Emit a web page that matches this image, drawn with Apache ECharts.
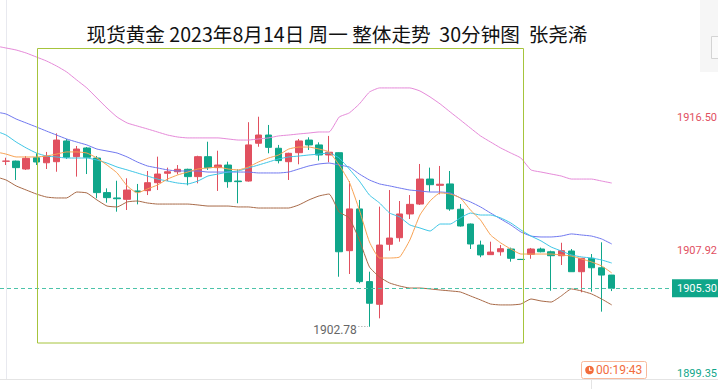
<!DOCTYPE html>
<html>
<head>
<meta charset="utf-8">
<script src="https://cdn.jsdelivr.net/npm/echarts@6/dist/echarts.min.js"></script>
<style>html,body{margin:0;padding:0;background:#fff;}#c{width:718px;height:389px;}</style>
</head>
<body>
<div id="c"></div>
<script>
const titleText = '现货黄金 2023年8月14日 周一 整体走势  30分钟图  张尧浠';

// 30-minute candles (index 0..60)
const opens  = [1913.64,1913.65,1913.13,1913.87,1913.54,1913.61,1914.97,1913.94,1914.51,1913.85,1911.58,1911.23,1911.14,1911.69,1911.71,1912.23,1912.85,1912.95,1913.11,1912.63,1913.94,1913.22,1913.39,1912.34,1912.34,1914.82,1915.36,1914.49,1913.61,1914.20,1915.03,1914.71,1914.05,1914.20,1907.77,1910.51,1905.74,1904.25,1908.19,1908.62,1910.18,1910.83,1912.47,1912.06,1912.15,1910.49,1909.52,1908.14,1907.51,1907.70,1907.88,1907.20,1907.53,1907.88,1907.70,1907.44,1907.75,1906.39,1907.27,1906.65,1906.17];
const closes = [1913.65,1913.22,1913.83,1913.59,1913.98,1915.03,1913.90,1914.44,1913.90,1911.58,1911.25,1911.18,1911.75,1911.64,1912.23,1912.80,1912.95,1913.11,1912.63,1913.94,1913.22,1913.39,1912.30,1912.30,1914.71,1915.36,1914.55,1913.68,1914.16,1914.97,1914.71,1914.05,1914.23,1907.70,1910.51,1905.74,1904.32,1908.14,1908.60,1910.18,1910.81,1912.47,1912.10,1912.13,1910.51,1909.39,1908.21,1907.49,1907.68,1907.90,1907.27,1907.19,1907.88,1907.70,1907.44,1907.77,1906.39,1907.27,1906.65,1906.17,1905.30];
const lows   = [1913.39,1912.41,1913.07,1913.39,1913.13,1912.95,1913.79,1912.63,1912.80,1911.21,1910.92,1910.33,1910.44,1910.81,1911.42,1911.75,1912.34,1912.78,1912.06,1912.19,1913.07,1911.69,1911.90,1910.88,1912.30,1914.59,1914.16,1913.50,1912.41,1913.44,1914.38,1913.68,1913.57,1906.06,1906.24,1905.63,1902.78,1903.33,1907.77,1908.36,1909.85,1910.77,1911.64,1911.47,1910.39,1909.35,1907.88,1907.34,1907.50,1907.44,1907.05,1907.16,1907.24,1907.66,1905.14,1906.83,1906.38,1905.04,1905.08,1903.77,1905.12];
const highs  = [1913.87,1913.68,1913.98,1914.16,1914.25,1915.47,1915.10,1914.64,1914.57,1913.98,1911.86,1912.36,1912.52,1912.15,1913.00,1913.94,1913.22,1913.39,1913.15,1914.00,1914.92,1914.33,1913.61,1913.11,1916.20,1916.56,1916.02,1914.71,1914.20,1915.10,1915.21,1914.88,1915.30,1914.22,1912.34,1911.10,1906.39,1910.66,1911.75,1911.03,1911.42,1913.46,1913.22,1913.33,1913.00,1910.83,1909.55,1908.43,1908.36,1908.14,1907.97,1907.23,1907.95,1907.97,1907.77,1908.29,1907.88,1907.28,1907.55,1908.32,1906.18];

// indicator lines (index -1..60)
const upperBand = [1921.20,1921.07,1920.94,1920.74,1920.48,1920.22,1919.89,1919.50,1918.97,1918.45,1917.79,1917.13,1916.54,1916.15,1915.95,1915.76,1915.56,1915.36,1915.23,1915.17,1915.17,1915.17,1915.17,1915.10,1915.03,1915.03,1915.10,1915.17,1915.30,1915.36,1915.43,1915.49,1915.56,1915.56,1916.54,1916.81,1917.40,1918.18,1918.45,1918.45,1918.45,1918.45,1918.25,1917.86,1917.40,1916.87,1916.35,1915.82,1915.30,1914.90,1914.51,1914.18,1913.85,1913.07,1912.93,1912.80,1912.67,1912.47,1912.47,1912.47,1912.34,1912.21];
const midBand   = [1916.87,1916.74,1916.41,1916.15,1915.89,1915.62,1915.36,1915.10,1914.90,1914.71,1914.44,1914.31,1914.18,1913.92,1913.59,1913.33,1913.20,1913.07,1913.00,1913.00,1913.00,1912.93,1912.93,1912.93,1912.93,1912.93,1912.87,1912.87,1912.87,1912.93,1913.13,1913.33,1913.46,1913.52,1913.39,1913.26,1912.80,1912.41,1912.15,1912.02,1911.88,1911.75,1911.69,1911.62,1911.62,1911.56,1911.23,1910.97,1910.64,1910.24,1909.85,1909.46,1909.00,1908.73,1908.67,1908.67,1908.73,1908.87,1908.80,1908.73,1908.54,1908.21];
const maSlow    = [1915.62,1915.36,1914.90,1914.51,1914.18,1913.98,1913.92,1913.85,1913.85,1913.85,1913.72,1913.52,1913.26,1913.07,1912.87,1912.67,1912.47,1912.34,1912.21,1912.15,1912.34,1912.67,1912.80,1912.93,1913.00,1913.20,1913.39,1913.59,1913.79,1913.92,1913.98,1914.05,1914.11,1914.18,1913.85,1913.13,1912.34,1911.42,1910.90,1910.24,1909.98,1909.46,1909.26,1909.06,1909.52,1909.52,1909.92,1910.24,1910.11,1910.11,1909.92,1909.59,1909.13,1908.73,1908.41,1908.01,1907.75,1907.49,1907.36,1907.29,1907.16,1906.96];
const maFast    = [1914.25,1914.11,1913.92,1913.92,1913.92,1913.98,1914.11,1914.25,1914.25,1914.18,1913.85,1913.39,1912.87,1912.02,1911.56,1911.82,1912.08,1912.47,1912.74,1912.93,1913.13,1913.20,1913.26,1913.13,1913.07,1913.26,1913.59,1913.85,1914.05,1914.44,1914.57,1914.57,1914.44,1914.25,1913.39,1912.28,1910.44,1908.34,1907.29,1907.29,1907.36,1908.47,1910.11,1911.03,1911.56,1911.49,1911.23,1910.44,1909.78,1908.80,1908.28,1907.88,1907.55,1907.55,1907.55,1907.55,1907.49,1907.42,1907.23,1907.03,1906.77,1906.31];
const lowerBand = [1912.61,1912.41,1912.02,1911.75,1911.49,1911.29,1911.23,1911.23,1911.62,1911.56,1911.10,1910.70,1910.64,1910.97,1911.03,1910.90,1910.83,1910.83,1910.83,1910.83,1910.77,1910.70,1910.70,1910.70,1910.64,1910.64,1910.57,1910.57,1910.57,1910.57,1910.77,1911.10,1911.36,1911.49,1910.31,1909.92,1908.47,1906.70,1906.04,1905.65,1905.45,1905.32,1905.32,1905.26,1905.19,1905.13,1905.06,1904.80,1904.54,1904.27,1904.21,1904.21,1904.27,1904.60,1904.47,1904.40,1904.80,1905.26,1905.13,1904.93,1904.60,1904.21];

const lastPrice = 1905.30;
const lowMark = 1902.78;
const axisLabelValues = [1916.50, 1907.92, 1899.35];
const timeTicks = [58];
const countdown = '00:19:43';

const RED = '#e1505f', GREEN = '#0fa68a';

const candleData = opens.map((o, i) => [i, o, closes[i], lows[i], highs[i]]);
const toLine = arr => arr.map((v, k) => [k - 1, v]);

const chart = echarts.init(document.getElementById('c'), null, {renderer: 'svg'});

function lineSeries(name, arr, color) {
  return {
    name, type: 'line', data: toLine(arr), showSymbol: false, symbol: 'none',
    smooth: 0.15, z: 4, silent: true,
    lineStyle: {color, width: 1}
  };
}

const labelStyleKey = v => v === axisLabelValues[2] ? 'lo' : (v === axisLabelValues[1] ? 'mid' : 'hi');

chart.setOption({
  animation: false,
  backgroundColor: '#fff',
  grid: {left: 0, right: 46, top: 0, bottom: 10, containLabel: false, outerBoundsMode: 'none'},
  xAxis: {
    type: 'value', min: -0.6, max: 65.97,
    axisLine: {show: true, lineStyle: {color: '#e4e4e4'}},
    axisTick: {show: true, customValues: timeTicks, length: 10, lineStyle: {color: '#e4e4e4'}},
    axisLabel: {show: false},
    splitLine: {show: false}
  },
  yAxis: {
    type: 'value', position: 'right', min: 1899.35, max: 1924.22, scale: true,
    axisLine: {show: true, lineStyle: {color: '#e8e9ef'}},
    axisTick: {show: false},
    splitLine: {show: false},
    axisLabel: {
      customValues: axisLabelValues, margin: 5,
      formatter: v => '{' + labelStyleKey(v) + '|' + Number(v).toFixed(2) + '}',
      rich: {
        hi: {color: RED, fontSize: 11, fontFamily: 'Roboto'},
        mid: {color: RED, fontSize: 11, fontFamily: 'Roboto', padding: [5, 0, 0, 0]},
        lo: {color: GREEN, fontSize: 11, fontFamily: 'Roboto', padding: [0, 0, 11, 0]}
      }
    }
  },
  series: [
    {
      type: 'candlestick', data: candleData, encode: {x: 0, y: [1, 2, 3, 4]},
      barWidth: 7, z: 2, silent: true,
      itemStyle: {color: RED, color0: GREEN, borderColor: RED, borderColor0: GREEN, borderWidth: 1},
      markLine: {
        silent: true, symbol: ['none', 'none'], animation: false,
        data: [
          {yAxis: lastPrice,
           lineStyle: {color: '#4cc3a9', type: [4, 3], width: 1},
           label: {show: true, position: 'end', distance: 0, formatter: lastPrice.toFixed(2),
                   color: '#fff', backgroundColor: GREEN, padding: [4, 2, 3, 5],
                   fontSize: 11, fontFamily: 'Roboto'}},
          [{coord: [34.9, lowMark], lineStyle: {color: '#999', type: [1, 2], width: 1}, label: {show: false}},
           {coord: [35.85, lowMark]}]
        ]
      },
      markPoint: {
        silent: true, animation: false,
        data: [{coord: [34.85, lowMark], value: lowMark, symbol: 'circle', symbolSize: 0.1,
                itemStyle: {color: 'rgba(0,0,0,0)'},
                label: {show: true, position: 'left', distance: 1, offset: [0, 3],
                        formatter: lowMark.toFixed(2), color: '#666', fontSize: 12, fontFamily: 'Roboto'}}]
      }
    },
    lineSeries('upper', upperBand, '#e68ad9'),
    lineSeries('mid', midBand, '#7078f0'),
    lineSeries('ma2', maSlow, '#3ec6e6'),
    lineSeries('ma1', maFast, '#f8a253'),
    lineSeries('lower', lowerBand, '#a86a48')
  ],
  graphic: [
    {type: 'text', x: 337, y: 33, z: 50,
     style: {text: titleText, align: 'center', verticalAlign: 'middle', fontSize: 19.6,
             fontFamily: '"Noto Sans CJK SC"', fill: '#111'}},
    {type: 'rect', z: 100, silent: true, shape: {x: 37.5, y: 48.5, width: 486, height: 294.5},
     style: {fill: 'none', stroke: '#a6c43c', lineWidth: 1}},
    {type: 'line', z: 50, shape: {x1: 672, y1: 379.5, x2: 718, y2: 379.5}, style: {stroke: '#e4e4e4', lineWidth: 1}},
    {type: 'rect', z: 40, shape: {x: 700, y: 0, width: 18, height: 72}, style: {fill: '#f6f6f6'}},
    {type: 'rect', z: 41, shape: {x: 711.5, y: 36.5, width: 10, height: 22}, style: {fill: '#fafafa', stroke: '#d4d4d4', lineWidth: 1}},
    {type: 'group', z: 60, children: [
      {type: 'rect', shape: {x: 581.5, y: 361.5, width: 65, height: 17, r: 2},
       style: {fill: '#fff', stroke: '#f8b99c', lineWidth: 1}},
      {type: 'circle', shape: {cx: 589.5, cy: 370, r: 4.3}, style: {fill: '#f26d3d'}},
      {type: 'polyline', shape: {points: [[589.5, 367.3], [589.5, 370.2], [591.8, 370.2]]},
       style: {stroke: '#fff', lineWidth: 1.1, fill: 'none'}},
      {type: 'text', x: 596, y: 370,
       style: {text: countdown, verticalAlign: 'middle', align: 'left', fontSize: 12,
               fontFamily: 'Roboto', fill: '#f26d3d'}}
    ]}
  ]
});
</script>
</body>
</html>
